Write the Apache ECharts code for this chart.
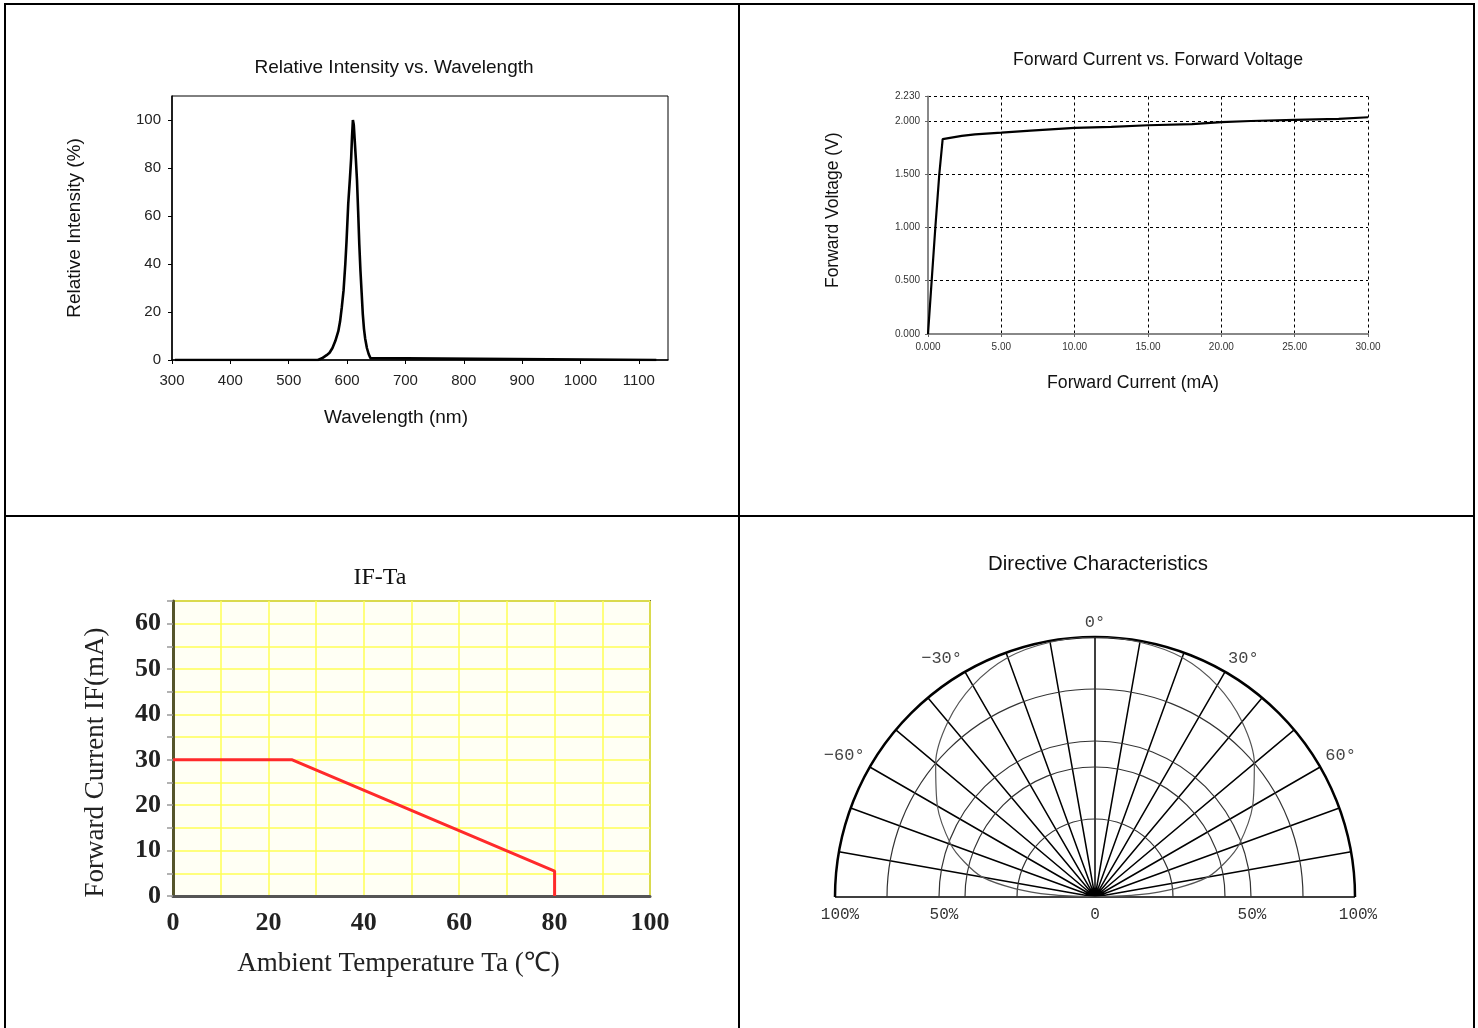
<!DOCTYPE html>
<html><head><meta charset="utf-8">
<script src="https://cdn.jsdelivr.net/npm/echarts@6/dist/echarts.min.js"></script>
<style>html,body{margin:0;padding:0;background:#fff}#c{width:1478px;height:1028px}</style>
</head><body><div id="c"></div>
<script>
// ---------- data ----------
const wavelengthNm = [305, 550, 557, 565, 570, 575, 580, 585, 588, 591, 594, 597, 599, 602, 605, 607, 608.5, 610, 611.5, 613, 615, 617, 619, 621, 623, 625, 627, 629, 631, 634, 637, 640, 643, 1130];
const relIntensity = [0, 0, 0.7, 2, 3, 5, 8, 12, 16, 22, 29, 40, 49, 65, 76, 84, 93, 100, 98, 92, 84, 75, 62, 48, 37, 28, 19, 13, 9, 5, 2.5, 0.8, 0, 0];

const forwardCurrentMA = [0, 0.25, 0.5, 0.77, 1.0, 2.3, 3.2, 5, 7, 10, 12.5, 15, 18, 20, 22, 25, 28, 30];
const forwardVoltageV  = [0, 0.5, 1.0, 1.5, 1.83, 1.86, 1.875, 1.89, 1.91, 1.935, 1.945, 1.96, 1.97, 1.99, 2.0, 2.01, 2.02, 2.035];

const ambientTempC = [0, 25, 80, 80];
const derateIFmA   = [30, 30, 5.5, 0];

const patternAngleDeg = [-90, -87, -84, -80, -75, -70, -60, -50, -40, -30, -20, -10, 0, 10, 20, 30, 40, 50, 60, 70, 75, 80, 84, 87, 90];
const patternRelPct   = [0, 17, 31, 44, 52, 59, 70, 80, 88, 94, 98, 99.5, 100, 99.5, 98, 94, 88, 80, 70, 59, 52, 44, 31, 17, 0];
const ringLevelsPct = [30, 50, 60, 80];
const angleLabelDeg = [-60, -30, 0, 30, 60];

// ---------- styles ----------
const NARROW = "'Liberation Sans',Arial,sans-serif";
const SANS = "'Liberation Sans',Arial,sans-serif";
const SERIF = "'Liberation Serif','Times New Roman',serif";
const MONO = "'Liberation Mono','DejaVu Sans Mono',monospace";
const PC = [1095, 897], PR = 260;

const zip = (a, b) => a.map((v, i) => [v, b[i]]);

const chart = echarts.init(document.getElementById('c'), null, {renderer: 'canvas'});

const ringPolars = ringLevelsPct.map(l => ({center: PC, radius: PR * l / 100}));

const option = {
  animation: false,
  backgroundColor: '#fff',
  title: [
    {text: 'Relative Intensity vs. Wavelength', left: 394, top: 58, textAlign: 'center', padding: 0,
     textStyle: {fontFamily: NARROW, fontSize: 19, fontWeight: 'normal', color: '#111'}},
    {text: 'Forward Current vs. Forward Voltage', left: 1158, top: 51, textAlign: 'center', padding: 0,
     textStyle: {fontFamily: NARROW, fontSize: 17.7, fontWeight: 'normal', color: '#111'}},
    {text: 'IF-Ta', left: 380, top: 566, textAlign: 'center', padding: 0,
     textStyle: {fontFamily: SERIF, fontSize: 24, fontWeight: 'normal', color: '#111'}},
    {text: 'Directive Characteristics', left: 1098, top: 554, textAlign: 'center', padding: 0,
     textStyle: {fontFamily: NARROW, fontSize: 20.4, fontWeight: 'normal', color: '#111'}}
  ],
  graphic: [
    {type: 'line', shape: {x1: 4, y1: 4, x2: 1475, y2: 4}, style: {stroke: '#000', lineWidth: 2}},
    {type: 'line', shape: {x1: 5, y1: 4, x2: 5, y2: 1028}, style: {stroke: '#000', lineWidth: 2}},
    {type: 'line', shape: {x1: 739, y1: 4, x2: 739, y2: 1028}, style: {stroke: '#000', lineWidth: 2}},
    {type: 'line', shape: {x1: 1474, y1: 4, x2: 1474, y2: 1028}, style: {stroke: '#000', lineWidth: 2}},
    {type: 'line', shape: {x1: 5, y1: 516, x2: 1474, y2: 516}, style: {stroke: '#000', lineWidth: 2}}
  ],
  grid: [
    {left: 172, top: 96, width: 496, height: 264, show: true, borderColor: '#000', borderWidth: 1, backgroundColor: 'transparent'},
    {left: 928, top: 96.5, width: 440, height: 237.5},
    {left: 173, top: 601, width: 477, height: 295, show: true, backgroundColor: '#fffff4', borderColor: '#6e6e3c', borderWidth: 2},
    {left: 835, top: 896, width: 520, height: 1}
  ],
  xAxis: [
    {gridIndex: 0, type: 'value', min: 300, max: 1150, interval: 100,
     name: 'Wavelength (nm)', nameLocation: 'middle', nameGap: 48,
     nameTextStyle: {fontFamily: NARROW, fontSize: 19, color: '#111', padding: [0, 48, 0, 0]},
     axisLine: {show: true, lineStyle: {color: '#000', width: 1.5}},
     axisTick: {show: true, length: 4, lineStyle: {color: '#000'}},
     axisLabel: {showMaxLabel: false, fontFamily: SANS, fontSize: 15, color: '#222', margin: 13,
       formatter: v => String(v)},
     splitLine: {show: false}},
    {gridIndex: 1, type: 'value', min: 0, max: 30, interval: 5, offset: 4,
     name: 'Forward Current (mA)', nameLocation: 'middle', nameGap: 36,
     nameTextStyle: {fontFamily: NARROW, fontSize: 17.7, color: '#111', padding: [0, 30, 0, 0]},
     axisLine: {show: true, lineStyle: {color: '#888', width: 2}},
     axisTick: {show: true, length: 3, lineStyle: {color: '#666'}},
     axisLabel: {fontFamily: NARROW, fontSize: 10, color: '#333', margin: 4,
       formatter: v => v === 0 ? '0.000' : v.toFixed(2)},
     splitLine: {show: true, lineStyle: {color: '#000', width: 1, type: [3, 3]}}},
    {gridIndex: 2, type: 'value', min: 0, max: 100, interval: 10,
     name: 'Ambient Temperature Ta (\u2103)', nameLocation: 'middle', nameGap: 54,
     nameTextStyle: {fontFamily: SERIF, fontSize: 27, color: '#222', padding: [0, 26, 0, 0]},
     axisLine: {show: true, lineStyle: {color: '#555', width: 3}},
     axisTick: {show: false},
     axisLabel: {fontFamily: SERIF, fontWeight: 'bold', fontSize: 26, color: '#222', margin: 14,
       formatter: v => (v % 20 === 0 ? String(v) : '')},
     splitLine: {show: true, lineStyle: {color: '#ffff55', width: 1.5}}},
    {gridIndex: 3, type: 'value', min: -100, max: 100, interval: 50,
     axisLine: {show: false}, axisTick: {show: false}, splitLine: {show: false},
     axisLabel: {fontFamily: MONO, fontSize: 16, color: '#333', margin: 10,
       formatter: v => v === 0 ? '{c|0}' : (v === -50 ? '{l|50%}' : (v === 50 ? '{r|50%}' : (v < 0 ? '{rl|100%}' : '{rr|100%}'))),
       rich: {c: {fontFamily: MONO, fontSize: 16, color: '#333'},
              l: {fontFamily: MONO, fontSize: 16, color: '#333', padding: [0, 42, 0, 0]},
              r: {fontFamily: MONO, fontSize: 16, color: '#333', padding: [0, 0, 0, 54]},
              rl: {fontFamily: MONO, fontSize: 16, color: '#333', padding: [0, 0, 0, 10]},
              rr: {fontFamily: MONO, fontSize: 16, color: '#333', padding: [0, 0, 0, 6]}}}}
  ],
  yAxis: [
    {gridIndex: 0, type: 'value', min: 0, max: 110, interval: 20,
     name: 'Relative Intensity (%)', nameLocation: 'middle', nameGap: 88,
     nameTextStyle: {fontFamily: NARROW, fontSize: 19, color: '#111'},
     axisLine: {show: true, lineStyle: {color: '#000', width: 1.5}},
     axisTick: {show: true, length: 4, lineStyle: {color: '#000'}},
     axisLabel: {showMaxLabel: false, fontFamily: SANS, fontSize: 15, color: '#222', margin: 11},
     splitLine: {show: false}},
    {gridIndex: 1, type: 'value', min: 0, max: 2.23, interval: 0.5, offset: 5,
     name: 'Forward Voltage (V)', nameLocation: 'middle', nameGap: 81,
     nameTextStyle: {fontFamily: NARROW, fontSize: 17.5, color: '#111', padding: [0, 0, 0, 10]},
     axisLine: {show: true, lineStyle: {color: '#888', width: 2}},
     axisTick: {show: true, length: 3, lineStyle: {color: '#666'}},
     axisLabel: {fontFamily: NARROW, fontSize: 10, color: '#333', margin: 3,
       formatter: v => v.toFixed(3)},
     splitLine: {show: true, lineStyle: {color: '#000', width: 1, type: [3, 3]}}},
    {gridIndex: 2, type: 'value', min: 0, max: 65, interval: 5,
     name: 'Forward Current IF(mA)', nameLocation: 'middle', nameGap: 64,
     nameTextStyle: {fontFamily: SERIF, fontSize: 27, color: '#222', padding: [0, 28, 0, 0]},
     axisLine: {show: true, lineStyle: {color: '#55552a', width: 3}},
     axisTick: {show: true, length: 6, lineStyle: {color: '#999', width: 1.5}},
     axisLabel: {fontFamily: SERIF, fontWeight: 'bold', fontSize: 26, color: '#222', margin: 12,
       formatter: v => (v % 10 === 0 && v <= 60 ? String(v) : '')},
     splitLine: {show: true, lineStyle: {color: '#ffff55', width: 1.5}}},
    {gridIndex: 3, type: 'value', show: false, min: 0, max: 1}
  ],
  polar: [{center: PC, radius: PR}].concat(ringPolars),
  angleAxis: [
    {polarIndex: 0, type: 'value', min: -90, max: 90, interval: 10, startAngle: 180, endAngle: 0, clockwise: true,
     axisLine: {show: true, lineStyle: {color: '#000', width: 2.5}},
     axisTick: {show: false},
     splitLine: {show: true, lineStyle: {color: '#000', width: 1.5}},
     axisLabel: {show: true, margin: 6, fontFamily: MONO, fontSize: 17, color: '#444',
       formatter: v => angleLabelDeg.indexOf(v) >= 0 ? (v < 0 ? '\u2212' + Math.abs(v) : v) + '\u00b0' : ''}}
  ].concat(ringLevelsPct.map((l, i) => ({
     polarIndex: i + 1, type: 'value', min: -90, max: 90, startAngle: 180, endAngle: 0, clockwise: true,
     axisLine: {show: true, lineStyle: {color: '#333', width: 1.2}},
     axisTick: {show: false}, axisLabel: {show: false}, splitLine: {show: false}}))),
  radiusAxis: [
    {polarIndex: 0, type: 'value', min: 0, max: 100,
     axisLine: {show: false}, axisTick: {show: false}, axisLabel: {show: false}, splitLine: {show: false}}
  ].concat(ringLevelsPct.map((l, i) => ({
     polarIndex: i + 1, type: 'value', min: 0, max: 100,
     axisLine: {show: false}, axisTick: {show: false}, axisLabel: {show: false}, splitLine: {show: false}}))),
  series: [
    {type: 'line', xAxisIndex: 0, yAxisIndex: 0, data: zip(wavelengthNm, relIntensity),
     showSymbol: false, lineStyle: {color: '#000', width: 2.6}, z: 5},
    {type: 'line', xAxisIndex: 1, yAxisIndex: 1, data: zip(forwardCurrentMA, forwardVoltageV),
     showSymbol: false, lineStyle: {color: '#000', width: 2.2}, z: 5},
    {type: 'line', xAxisIndex: 2, yAxisIndex: 2, data: zip(ambientTempC, derateIFmA),
     showSymbol: false, lineStyle: {color: '#ff2a2a', width: 3}, z: 5},
    {type: 'line', coordinateSystem: 'polar', polarIndex: 0, data: zip(patternRelPct, patternAngleDeg),
     showSymbol: false, smooth: 0.3, lineStyle: {color: '#555', width: 1.2}, z: 1}
  ]
};
chart.setOption(option);
</script>
</body></html>
